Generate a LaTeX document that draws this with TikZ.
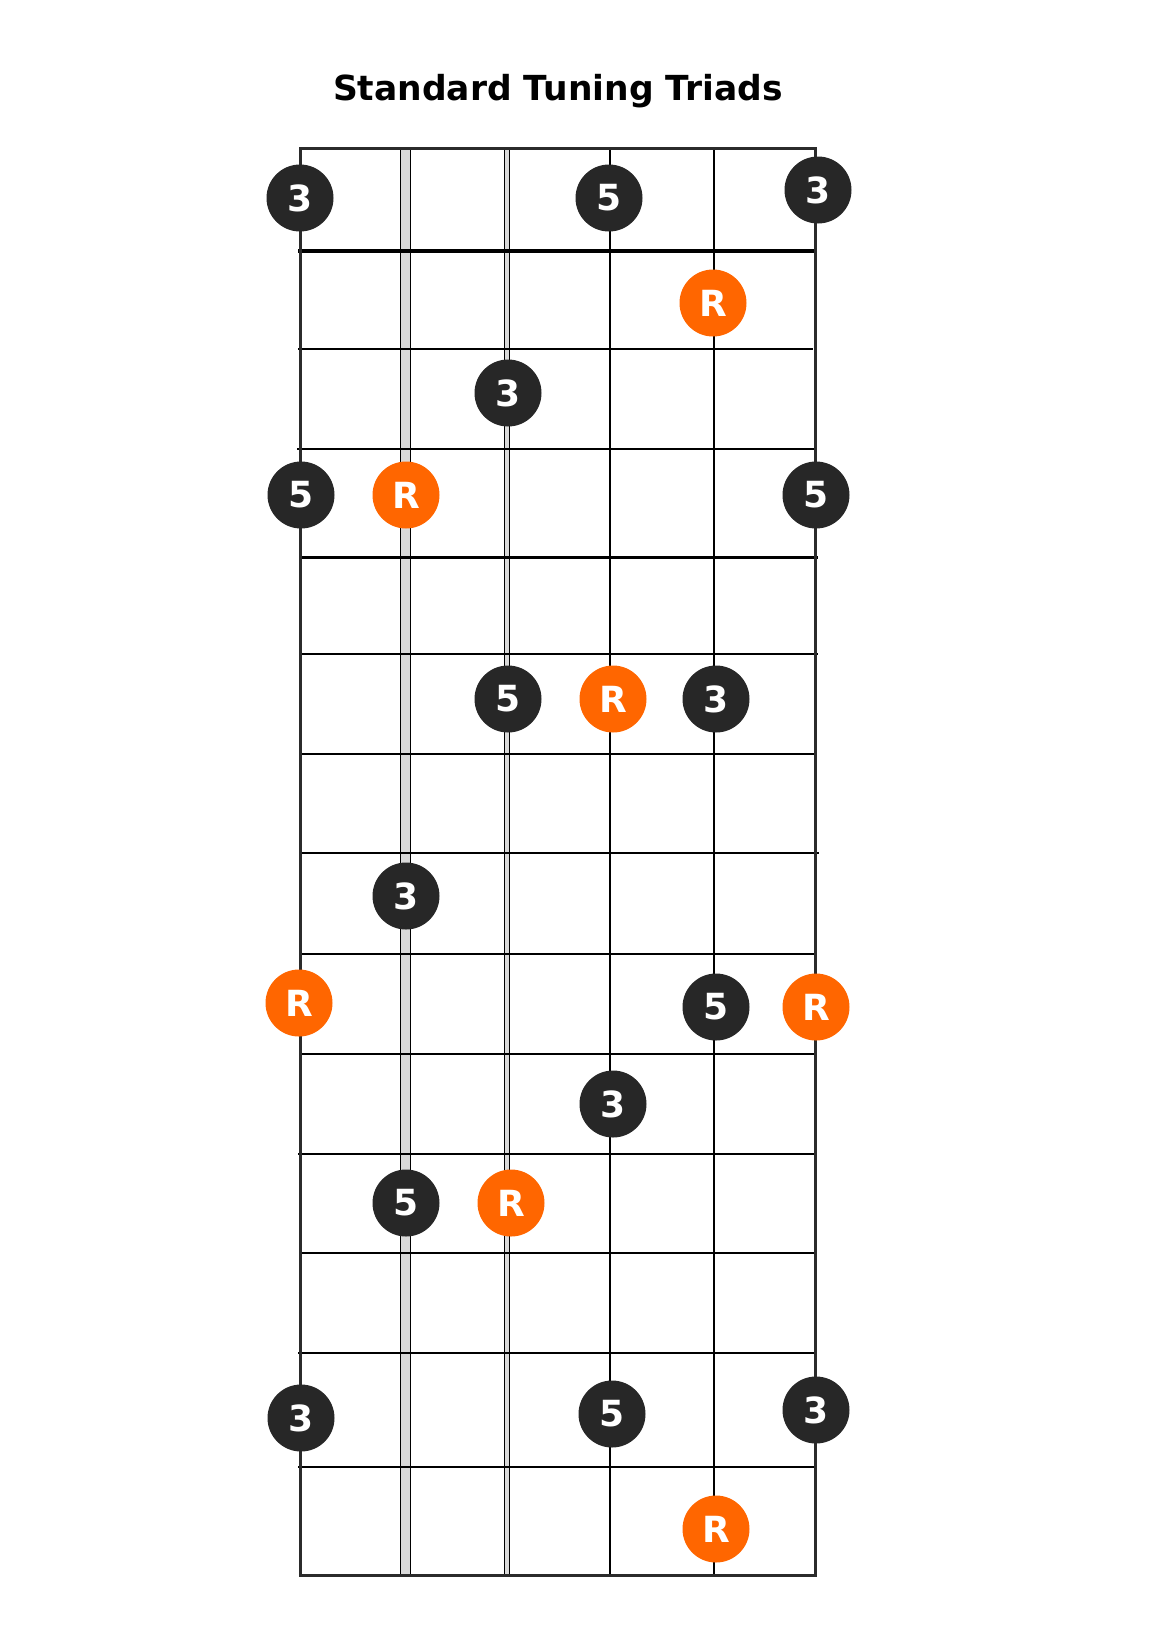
\documentclass[tikz,border=0pt]{standalone}
\usepackage{fontspec}
\setmainfont{DejaVu Sans}
\definecolor{dotdark}{HTML}{272727}
\definecolor{rootorange}{HTML}{FF6600}
\definecolor{framegray}{HTML}{2B2B2B}
\definecolor{bargray}{HTML}{D9D9D9}
\tikzset{
  fret/.style={line width=2pt, black},
  nutline/.style={line width=4pt, black},
  strline/.style={line width=2pt, black},
  barline/.style={fill=bargray, draw=black, line width=0.9pt},
  frameline/.style={line width=3pt, framegray},
  dot/.style={circle, fill=dotdark, minimum size=67pt, inner sep=0pt, text=white, font=\fontsize{36}{36}\selectfont\bfseries},
  root/.style={dot, fill=rootorange},
  titletext/.style={font=\fontsize{34.5}{40}\selectfont\bfseries, anchor=base}
}
\begin{document}
\begin{tikzpicture}[x=1pt,y=-1pt]
\useasboundingbox (0,0) rectangle (1159,1639);
\fill[white] (0,0) rectangle (1159,1639);
% title
\node[titletext] (title) at (558,100) {Standard Tuning Triads};
% grey strings
\draw[barline] (400.6,148) rectangle (410.2,1575);
\draw[barline] (504.5,148) rectangle (509.2,1575);
% plain strings
\draw[strline] (610,148) -- (610,1575);
\draw[strline] (714,148) -- (714,1575);
% frets
\draw[nutline] (298,251) -- (814,251);
\draw[fret] (298,349) -- (813,349);
\draw[fret] (297,449) -- (815,449);
\draw[line width=3pt] (301,557) -- (818,557);
\draw[fret] (301,654) -- (818,654);
\draw[fret] (300,754) -- (817,754);
\draw[fret] (301,853) -- (819,853);
\draw[fret] (301,954) -- (817,954);
\draw[fret] (301,1054) -- (817,1054);
\draw[fret] (298,1154) -- (816,1154);
\draw[fret] (300,1253) -- (817,1253);
\draw[fret] (298,1353) -- (816,1353);
\draw[fret] (298,1467) -- (816,1467);
% frame
\draw[frameline] (300,148.3) rectangle (815.5,1575.5);
% notes
\node[dot] (n1) at (300,198) {3};
\node[dot] (n2) at (609,198) {5};
\node[dot] (n3) at (818,190) {3};
\node[root] (n4) at (713,303) {R};
\node[dot] (n5) at (508,393) {3};
\node[dot] (n6) at (301,495) {5};
\node[root] (n7) at (406,495) {R};
\node[dot] (n8) at (816,495) {5};
\node[dot] (n9) at (508,699) {5};
\node[root] (n10) at (613,699) {R};
\node[dot] (n11) at (716,699) {3};
\node[dot] (n12) at (406,896) {3};
\node[root] (n13) at (299,1003) {R};
\node[dot] (n14) at (716,1007) {5};
\node[root] (n15) at (816,1007) {R};
\node[dot] (n16) at (613,1104) {3};
\node[dot] (n17) at (406,1203) {5};
\node[root] (n18) at (511,1203) {R};
\node[dot] (n19) at (301,1418) {3};
\node[dot] (n20) at (612,1414) {5};
\node[dot] (n21) at (816,1410) {3};
\node[root] (n22) at (716,1529) {R};
\end{tikzpicture}
\end{document}
